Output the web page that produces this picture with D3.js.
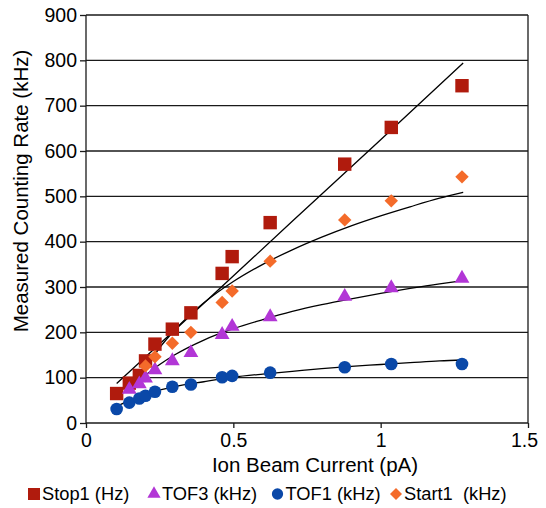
<!DOCTYPE html>
<html>
<head>
<meta charset="utf-8">
<script src="https://cdn.jsdelivr.net/npm/d3@7/dist/d3.min.js"></script>
<style>
  html, body { margin: 0; padding: 0; background: #fff; }
  svg { display: block; }
  text { font-family: "Liberation Sans", Arial, Helvetica, sans-serif; fill: #000; }
</style>
</head>
<body>
<svg id="chart" width="546" height="508"></svg>
<script>
// ---------- data ----------
const currentPA = [0.104, 0.147, 0.181, 0.202, 0.234, 0.293, 0.356, 0.462, 0.496, 0.625, 0.878, 1.036, 1.276];
const stop1Hz   = [65, 88, 105, 137, 174, 207, 243, 330, 367, 442, 571, 652, 744];
const tof3kHz   = [null, 74, 86, 99, 117, 137, 155, 195, 213, 234, 279, 298, 319];
const tof1kHz   = [31, 45, 54, 60, 69, 80, 85, 101, 104, 111, 123, 130, 130];
const start1kHz = [null, null, null, 126, 146, 176, 200, 266, 291, 357, 448, 490, 543];

// trendlines
const stop1TrendX  = [0.104, 0.4, 0.7, 1.0, 1.28];
const stop1TrendY  = [87, 264, 445, 625, 794];
const start1TrendX = [0.202, 0.25, 0.3, 0.4, 0.5, 0.6, 0.7, 0.8, 0.9, 1.0, 1.1, 1.2, 1.28];
const start1TrendY = [121, 166, 204, 265, 312, 350, 382, 410, 435, 457, 477, 496, 509];
const tof3TrendX   = [0.147, 0.2, 0.25, 0.3, 0.4, 0.5, 0.6, 0.7, 0.8, 0.9, 1.0, 1.1, 1.2, 1.28];
const tof3TrendY   = [69, 104, 129, 150, 183, 208, 228, 246, 261, 274, 286, 297, 307, 314];
const tof1TrendX   = [0.104, 0.15, 0.2, 0.3, 0.4, 0.5, 0.6, 0.7, 0.8, 0.9, 1.0, 1.1, 1.2, 1.28];
const tof1TrendY   = [36, 51, 63, 80, 91, 101, 108, 114, 120, 125, 129, 133, 137, 139];

const xTicks = [0, 0.5, 1, 1.5];
const xTickLabels = ["0", "0.5", "1", "1.5"];
const yTicks = [0, 100, 200, 300, 400, 500, 600, 700, 800, 900];

const seriesNames = ["Stop1 (Hz)", "TOF3 (kHz)", "TOF1 (kHz)", "Start1  (kHz)"];
const seriesColors = ["#b01b0d", "#b236d6", "#0a48a8", "#f46b2a"];

// ---------- layout ----------
const svg = d3.select("#chart");
const pLeft = 86, pRight = 528, pTop = 15, pBottom = 423;
const x = d3.scaleLinear().domain([0, 1.5]).range([pLeft, pRight]);
const y = d3.scaleLinear().domain([0, 900]).range([pBottom, pTop]);

// gridlines
svg.append("g").selectAll("line").data(yTicks.slice(1)).join("line")
  .attr("x1", pLeft).attr("x2", pRight)
  .attr("y1", d => y(d)).attr("y2", d => y(d))
  .attr("stroke", "#1a1a1a").attr("stroke-width", 1.3);

// right border
svg.append("line").attr("x1", pRight).attr("x2", pRight).attr("y1", pTop).attr("y2", pBottom)
  .attr("stroke", "#1a1a1a").attr("stroke-width", 1.3);

// axes
const yAxis = svg.append("g").attr("transform", `translate(${pLeft},0)`)
  .call(d3.axisLeft(y).tickValues(yTicks).tickSize(6).tickPadding(3).tickFormat(d3.format("d")));
const xAxis = svg.append("g").attr("transform", `translate(0,${pBottom})`)
  .call(d3.axisBottom(x).tickValues(xTicks).tickSize(5).tickPadding(5).tickFormat((d, i) => xTickLabels[i]));
[yAxis, xAxis].forEach(a => {
  a.select(".domain").attr("stroke", "#1a1a1a").attr("stroke-width", 1.3);
  a.selectAll(".tick line").attr("stroke", "#1a1a1a").attr("stroke-width", 1.3);
  a.selectAll("text").style("font-size", "19.5px").attr("fill", "#000")
   .style("font-family", "'Liberation Sans', Arial, sans-serif");
});
// last x label kept inside the chart edge
xAxis.selectAll(".tick text").filter(d => d === 1.5).attr("dx", -4);
yAxis.select(".domain").attr("d", `M0,${pTop}V${pBottom}`);
xAxis.select(".domain").attr("d", `M${pLeft},0H${pRight}`);

// axis titles
svg.append("text").attr("x", 315).attr("y", 472).attr("text-anchor", "middle")
  .style("font-size", "20.5px").text("Ion Beam Current (pA)");
svg.append("text").attr("transform", "translate(28,191) rotate(-90)").attr("text-anchor", "middle")
  .style("font-size", "20.5px").text("Measured Counting Rate (kHz)");

// trend lines
const line = d3.line().x(d => x(d[0])).y(d => y(d[1])).curve(d3.curveMonotoneX);
const trends = [
  [stop1TrendX, stop1TrendY],
  [tof3TrendX, tof3TrendY],
  [tof1TrendX, tof1TrendY],
  [start1TrendX, start1TrendY]
];
svg.append("g").selectAll("path").data(trends).join("path")
  .attr("d", t => line(t[0].map((v, i) => [v, t[1][i]])))
  .attr("fill", "none").attr("stroke", "#000").attr("stroke-width", 1.3);

// markers (diamond = square turned 45 degrees)
const symbols = [d3.symbolSquare, d3.symbolTriangle, d3.symbolCircle, d3.symbolSquare];
const rotations = [0, 0, 0, 45];
const sizes = [180, 95, 125, 90];
const seriesVals = [stop1Hz, tof3kHz, tof1kHz, start1kHz];
seriesVals.forEach((vals, s) => {
  const pts = currentPA.map((c, i) => [c, vals[i]]).filter(p => p[1] != null);
  svg.append("g").selectAll("path").data(pts).join("path")
    .attr("transform", p => `translate(${x(p[0])},${y(p[1])}) rotate(${rotations[s]})`)
    .attr("d", d3.symbol().type(symbols[s]).size(sizes[s]))
    .attr("fill", seriesColors[s]);
});

// legend
const legendX = [34, 154, 277.5, 396];
const lg = svg.append("g");
seriesNames.forEach((n, s) => {
  lg.append("path").attr("transform", `translate(${legendX[s]},494) rotate(${rotations[s]})`)
    .attr("d", d3.symbol().type(symbols[s]).size(sizes[s] * 0.8))
    .attr("fill", seriesColors[s]);
  lg.append("text").attr("x", legendX[s] + 8).attr("y", 500)
    .style("font-size", "18.3px").style("white-space", "pre").attr("xml:space", "preserve").text(n);
});
</script>
</body>
</html>
